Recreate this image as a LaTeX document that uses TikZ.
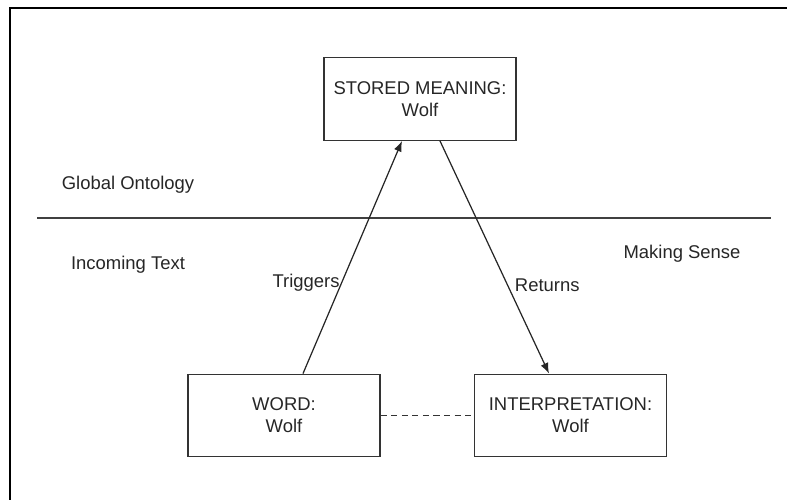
\documentclass[tikz,border=0pt]{standalone}
\usepackage{fontspec}
\setmainfont{Liberation Sans}
\usepackage{tikz}
\usetikzlibrary{arrows.meta,positioning}

\begin{document}
\begin{tikzpicture}
		\tikzstyle{Box} 	= [rectangle, draw=black!80, line width=0.8pt, minimum width=3.84cm, minimum height=1.65cm, align=center, inner sep=0pt]
		\tikzstyle{Label}	= [text=black!85]
		\tikzstyle{Link}	= [black!85, line width=0.7pt, -{Latex[length=6pt, width=4.6pt]}]
		\tikzstyle{Sep}	= [black!75, line width=0.8pt]
		\tikzstyle{Frame}	= [black, line width=1.3pt]
		\tikzstyle{Same}	= [black!80, line width=0.7pt, dash pattern=on 3.5pt off 2.5pt]

		\useasboundingbox (0, 0) rectangle (15.74, 10);
		\fontsize{10.5}{12.5}\selectfont

		\coordinate (fb) at (0.2, -0.1);
		\coordinate (fc) at (0.2, 9.84);
		\coordinate (fr) at (15.84, 9.84);
		\draw (fb) -- (fc) -- (fr) [Frame];

		\node (stored) at (8.4, 8.02) [Box][Label] {STORED MEANING:\\Wolf};
		\node (word) at (5.68, 1.69) [Box][Label] {WORD:\\Wolf};
		\node (interp) at (11.41, 1.69) [Box][Label] {INTERPRETATION:\\Wolf};

		\coordinate (sepl) at (0.74, 5.64);
		\coordinate (sepr) at (15.42, 5.64);
		\draw (sepl) -- (sepr) [Sep];

		\node (global) at (2.56, 6.3) [Label] {Global Ontology};
		\node (incoming) at (2.56, 4.7) [Label] {Incoming Text};
		\node (making) at (13.64, 4.92) [Label] {Making Sense};

		\draw ([xshift=0.38cm]word.north) to node [pos=0.39, left, inner sep=1pt, Label] {Triggers} ([xshift=-0.36cm]stored.south) [Link];
		\draw ([xshift=0.4cm]stored.south) to node [pos=0.62, right, inner sep=4pt, Label] {Returns} ([xshift=-0.43cm]interp.north) [Link];
		\draw [-] (word) to (interp) [Same];
	\end{tikzpicture}
\end{document}
